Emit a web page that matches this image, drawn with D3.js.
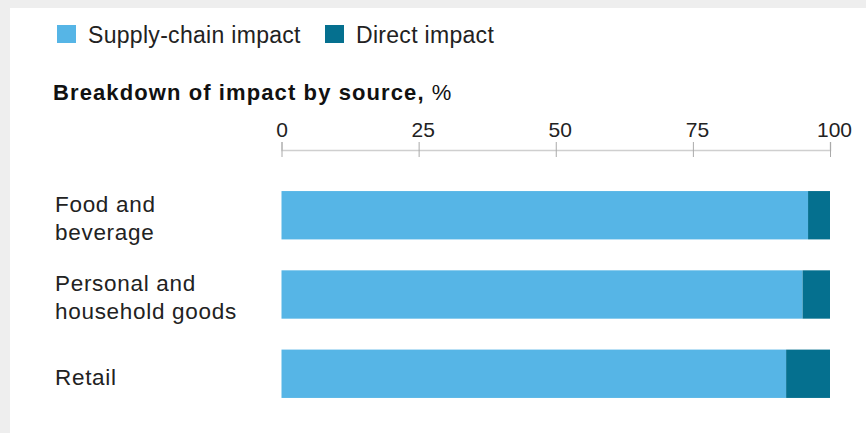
<!DOCTYPE html>
<html>
<head>
<meta charset="utf-8">
<script src="https://cdn.jsdelivr.net/npm/d3@7"></script>
<style>
  html, body { margin: 0; padding: 0; }
  body { width: 866px; height: 433px; background: #eeeeee; overflow: hidden; }
  svg { display: block; font-family: "Liberation Sans", Arial, Helvetica, sans-serif; }
</style>
</head>
<body>
<svg id="chart" width="866" height="433"></svg>
<script>
// chart data
const categories = [["Food and", "beverage"], ["Personal and", "household goods"], ["Retail"]];
const supplyChain = [96, 95, 92];
const direct = [4, 5, 8];
const ticks = [0, 25, 50, 75, 100];
const seriesNames = ["Supply-chain impact", "Direct impact"];
const colors = ["#56b5e6", "#05708f"];

const svg = d3.select("#chart");

// white card on the grey page
svg.append("rect")
    .attr("x", 10).attr("y", 8)
    .attr("width", 866).attr("height", 433)
    .attr("fill", "#fff");

const x = d3.scaleLinear().domain([0, 100]).range([281.5, 830]);
const y = d3.scaleBand().domain(d3.range(categories.length)).range([176, 413]).paddingInner(0.39).paddingOuter(0.19);

// legend
const legend = svg.append("g");
const legendX = [57, 325];
seriesNames.forEach((name, i) => {
    legend.append("rect")
        .attr("x", legendX[i]).attr("y", 25)
        .attr("width", 19).attr("height", 18)
        .attr("fill", colors[i]);
    legend.append("text")
        .attr("x", legendX[i] + 31).attr("y", 43)
        .attr("font-size", 23)
        .attr("letter-spacing", 0.3)
        .attr("fill", "#222")
        .text(name);
});

// title
const title = svg.append("text")
    .attr("x", 53).attr("y", 100)
    .attr("font-size", 22)
    .attr("letter-spacing", 1.1)
    .attr("fill", "#111");
title.append("tspan").attr("font-weight", "bold").text("Breakdown of impact by source,");
title.append("tspan").text(" %");

// top axis
const axis = svg.append("g")
    .attr("transform", "translate(0,150)")
    .call(d3.axisTop(x).tickValues(ticks).tickSize(8).tickPadding(6));
axis.select(".domain").attr("stroke", "#cfcfcf").attr("stroke-width", 1.5);
axis.selectAll(".tick line")
    .attr("stroke", "#aaa")
    .attr("y1", 7)
    .attr("y2", -8);
axis.selectAll(".tick text")
    .attr("font-size", 21)
    .attr("font-family", "\"Liberation Sans\", Arial, sans-serif")
    .attr("fill", "#222")
    .attr("dx", d => d > 0 ? 4 : 0)
    .attr("y", -13);

// bars
const rows = svg.append("g").selectAll("g")
    .data(categories)
    .join("g");

rows.append("rect")
    .attr("x", x(0))
    .attr("y", (d, i) => y(i))
    .attr("width", (d, i) => x(supplyChain[i]) - x(0))
    .attr("height", y.bandwidth())
    .attr("fill", colors[0]);

rows.append("rect")
    .attr("x", (d, i) => x(supplyChain[i]))
    .attr("y", (d, i) => y(i))
    .attr("width", (d, i) => x(supplyChain[i] + direct[i]) - x(supplyChain[i]))
    .attr("height", y.bandwidth())
    .attr("fill", colors[1]);

// category labels, vertically centred on the bar
const lineH = 28;
rows.append("text")
    .attr("font-size", 22.5)
    .attr("letter-spacing", 0.7)
    .attr("fill", "#222")
    .each(function(d, i) {
        const cy = y(i) + y.bandwidth() / 2 + 10.8 - (d.length - 1) * lineH / 2;
        d3.select(this).selectAll("tspan")
            .data(d)
            .join("tspan")
            .attr("x", 55)
            .attr("y", (s, j) => cy + j * lineH)
            .text(s => s);
    });
</script>
</body>
</html>
